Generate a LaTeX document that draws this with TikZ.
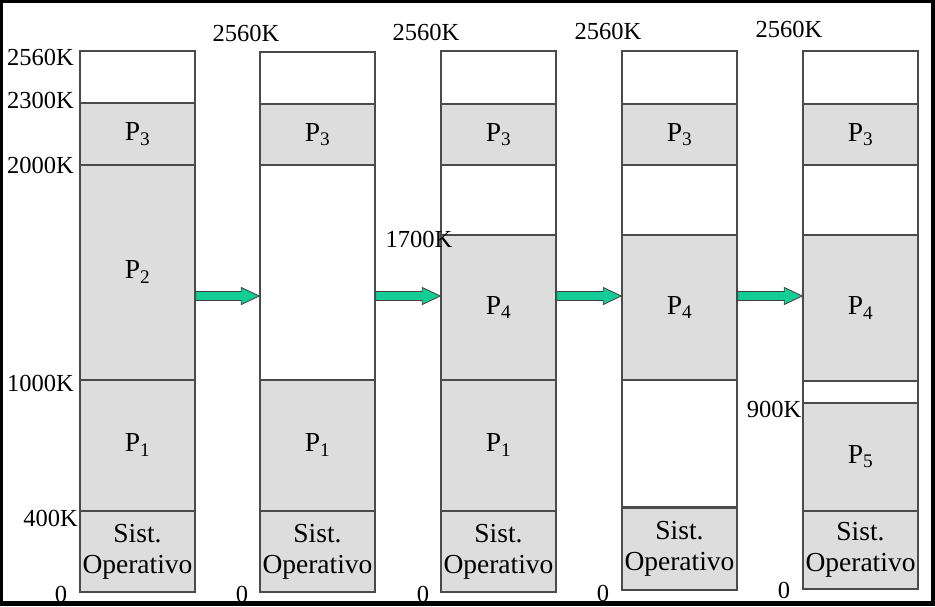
\documentclass[tikz,border=0pt]{standalone}
\usepackage{fontspec}
\setmainfont{Liberation Serif}
\usetikzlibrary{calc}
\definecolor{ocup}{RGB}{221,221,221}
\definecolor{borde}{RGB}{75,75,75}
\definecolor{verdeflecha}{RGB}{20,204,150}

\begin{document}
\begin{tikzpicture}[x=1pt, y=-1pt,
  ocupado/.style={fill=ocup, draw=borde, line width=1.2pt},
  libre/.style={fill=white, draw=borde, line width=1.2pt},
  columna/.style={draw=borde, line width=1.4pt, minimum width=115pt, inner sep=0pt},
  dir/.style={font=\fontsize{24.5}{27}\selectfont, inner sep=0pt},
  proc/.style={font=\fontsize{27.5}{31}\selectfont, inner sep=0pt, align=center},
  flecha/.style={fill=verdeflecha, draw=black!75, line width=0.8pt}]
  \useasboundingbox (0,0) rectangle (935,606);

  % marco
  \fill[black] (0,0) rectangle (935,606);
  \fill[white] (3,3) rectangle (931,601);

  % columna 1
  \filldraw[libre] (80,51) rectangle (195,103);
  \filldraw[ocupado] (80,103) rectangle (195,165);
  \filldraw[ocupado] (80,165) rectangle (195,380);
  \filldraw[ocupado] (80,380) rectangle (195,511);
  \filldraw[ocupado] (80,511) rectangle (195,592);
  \node[columna, minimum height=541pt] (c1) at (137.5,321.5) {};
  \node[proc] (p3a) at (137.5,134) {P\textsubscript{3}};
  \node[proc] (p2a) at (137.5,272) {P\textsubscript{2}};
  \node[proc] (p1a) at (137.5,445) {P\textsubscript{1}};
  \node[proc] (soa) at (137.5,551.5) {Sist.\\Operativo};

  % columna 2
  \filldraw[libre] (260,52) rectangle (375,104);
  \filldraw[ocupado] (260,104) rectangle (375,165);
  \filldraw[libre] (260,165) rectangle (375,380);
  \filldraw[ocupado] (260,380) rectangle (375,511);
  \filldraw[ocupado] (260,511) rectangle (375,592);
  \node[columna, minimum height=540pt] (c2) at (317.5,322) {};
  \node[proc] (p3b) at (317.5,134.5) {P\textsubscript{3}};
  \node[proc] (p1b) at (317.5,445) {P\textsubscript{1}};
  \node[proc] (sob) at (317.5,551.5) {Sist.\\Operativo};

  % columna 3
  \filldraw[libre] (441,51) rectangle (556,104);
  \filldraw[ocupado] (441,104) rectangle (556,165);
  \filldraw[libre] (441,165) rectangle (556,235);
  \filldraw[ocupado] (441,235) rectangle (556,380);
  \filldraw[ocupado] (441,380) rectangle (556,511);
  \filldraw[ocupado] (441,511) rectangle (556,592);
  \node[columna, minimum height=541pt] (c3) at (498.5,321.5) {};
  \node[proc] (p3c) at (498.5,134.5) {P\textsubscript{3}};
  \node[proc] (p4c) at (498.5,307.5) {P\textsubscript{4}};
  \node[proc] (p1c) at (498.5,445) {P\textsubscript{1}};
  \node[proc] (soc) at (498.5,551.5) {Sist.\\Operativo};

  % columna 4
  \filldraw[libre] (622,51) rectangle (737,104);
  \filldraw[ocupado] (622,104) rectangle (737,165);
  \filldraw[libre] (622,165) rectangle (737,235);
  \filldraw[ocupado] (622,235) rectangle (737,380);
  \filldraw[libre] (622,380) rectangle (737,507);
  \filldraw[ocupado] (622,507) rectangle (737,590);
  \draw[borde, line width=3pt] (622,507) -- (737,507);
  \node[columna, minimum height=539pt] (c4) at (679.5,320.5) {};
  \node[proc] (p3d) at (679.5,134.5) {P\textsubscript{3}};
  \node[proc] (p4d) at (679.5,307.5) {P\textsubscript{4}};
  \node[proc] (sod) at (679.5,548.5) {Sist.\\Operativo};

  % columna 5
  \filldraw[libre] (803,51) rectangle (918,104);
  \filldraw[ocupado] (803,104) rectangle (918,165);
  \filldraw[libre] (803,165) rectangle (918,235);
  \filldraw[ocupado] (803,235) rectangle (918,381);
  \filldraw[libre] (803,381) rectangle (918,403);
  \filldraw[ocupado] (803,403) rectangle (918,511);
  \filldraw[ocupado] (803,511) rectangle (918,589);
  \node[columna, minimum height=538pt] (c5) at (860.5,320) {};
  \node[proc] (p3e) at (860.5,134.5) {P\textsubscript{3}};
  \node[proc] (p4e) at (860.5,308) {P\textsubscript{4}};
  \node[proc] (p5e) at (860.5,457) {P\textsubscript{5}};
  \node[proc] (soe) at (860.5,550) {Sist.\\Operativo};

  % direcciones
  \node[dir, anchor=east] (d2560) at (74,57) {2560K};
  \node[dir, anchor=east] (d2300) at (74,100) {2300K};
  \node[dir, anchor=east] (d2000) at (74,165) {2000K};
  \node[dir, anchor=east] (d1000) at (74,383) {1000K};
  \node[dir, anchor=east] (d400) at (78,518) {400K};
  \node[dir] (d0a) at (61,594) {0};
  \node[dir] (d0b) at (242,594) {0};
  \node[dir] (d0c) at (423,594) {0};
  \node[dir] (d0d) at (603,593) {0};
  \node[dir] (d0e) at (784,590) {0};
  \node[dir] (t2560b) at (246,33) {2560K};
  \node[dir] (t2560c) at (426,32) {2560K};
  \node[dir] (t2560d) at (608,31) {2560K};
  \node[dir] (t2560e) at (789,29) {2560K};
  \node[dir] (d1700) at (419,239) {1700K};
  \node[dir] (d900) at (774,409) {900K};

  % flechas
  \coordinate (fy) at (0,296);
  \foreach \i/\j in {1/2,2/3,3/4,4/5} {
    \coordinate (t) at (c\i.east |- fy);
    \coordinate (h) at (c\j.west |- fy);
    \filldraw[flecha] ($(t)+(0,-4.5)$) -- ($(h)+(-18,-4.5)$) -- ($(h)+(-18,-8.5)$) -- (h)
      -- ($(h)+(-18,8.5)$) -- ($(h)+(-18,4.5)$) -- ($(t)+(0,4.5)$) -- cycle;
  }
\end{tikzpicture}
\end{document}
